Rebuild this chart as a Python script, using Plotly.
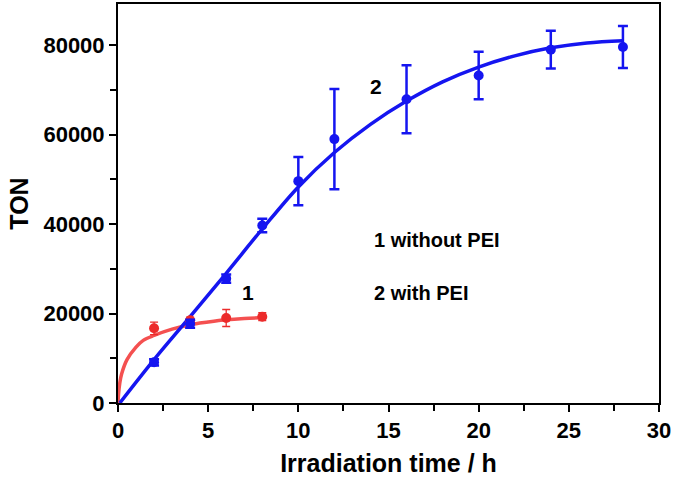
import plotly.graph_objects as go

# ---- data ----
# measured points, sample 1 (without PEI)
red_x = [2, 4, 6, 8]
red_y = [16700, 18500, 19000, 19300]
red_err = [1400, 700, 1900, 900]

# measured points, sample 2 (with PEI)
blue_x = [2, 4, 6, 8, 10, 12, 16, 20, 24, 28]
blue_y = [9100, 17700, 27800, 39700, 49600, 59000, 67900, 73200, 79000, 79600]
blue_err = [700, 900, 900, 1500, 5400, 11200, 7600, 5300, 4200, 4700]

# fitted curves
red_fit_x = [0, 0.03, 0.1, 0.2, 0.5, 1, 1.4, 2, 3, 4, 5, 6, 7, 8.2]
red_fit_y = [0, 2000, 4500, 6500, 9700, 12500, 14000, 15100, 16500, 17500, 18100, 18600, 18900, 19100]

blue_fit_x = [0.1, 2, 4, 6, 8, 10, 12, 14, 16, 18, 20, 22, 24, 26, 28]
blue_fit_y = [0, 9700, 19300, 29000, 38900, 48300, 56000, 62300, 67500, 71800, 75100, 77600, 79400, 80500, 81000]

x_ticks = [0, 5, 10, 15, 20, 25, 30]
y_ticks = [0, 20000, 40000, 60000, 80000]

BLUE = "#1515f0"
RED_LINE = "#f45050"
RED_PT = "#ec2b2b"
FONT = "Liberation Sans, Arial, sans-serif"

fig = go.Figure()

fig.add_trace(go.Scatter(
    x=red_fit_x, y=red_fit_y, mode="lines", line=dict(color=RED_LINE, width=3.5, shape="spline"),
    showlegend=False, hoverinfo="skip"))
fig.add_trace(go.Scatter(
    x=blue_fit_x, y=blue_fit_y, mode="lines", line=dict(color=BLUE, width=3.5, shape="spline"),
    showlegend=False, hoverinfo="skip"))
fig.add_trace(go.Scatter(
    x=red_x, y=red_y, mode="markers", marker=dict(color=RED_PT, size=10),
    error_y=dict(type="data", array=red_err, color=RED_PT, thickness=1.3, width=4),
    showlegend=False, name="1 without PEI"))
fig.add_trace(go.Scatter(
    x=blue_x, y=blue_y, mode="markers", marker=dict(color=BLUE, size=10),
    error_y=dict(type="data", array=blue_err, color=BLUE, thickness=2.5, width=5),
    showlegend=False, name="2 with PEI"))

ann_font = dict(family=FONT, size=21, color="black", weight="bold")
fig.add_annotation(x=14.3, y=70700, text="2", showarrow=False, font=ann_font)
fig.add_annotation(x=7.2, y=24700, text="1", showarrow=False, font=ann_font)
fig.add_annotation(x=14.1, y=36400, text="1 without PEI", showarrow=False, xanchor="left",
                   font=dict(family=FONT, size=20, color="black", weight="bold"))
fig.add_annotation(x=14.1, y=24600, text="2 with PEI", showarrow=False, xanchor="left",
                   font=dict(family=FONT, size=20, color="black", weight="bold"))

axis_common = dict(
    showline=True, linecolor="black", linewidth=2, mirror=True,
    ticks="outside", ticklen=7, tickwidth=2, tickcolor="black",
    showgrid=False, zeroline=False, ticklabeloverflow="allow",
    tickfont=dict(family=FONT, size=22, color="black", weight="bold"),
)

fig.update_xaxes(
    range=[0, 30], tickvals=x_ticks,
    minor=dict(dtick=2.5, ticks="outside", ticklen=6, tickwidth=2, tickcolor="black", showgrid=False),
    title=dict(text="Irradiation time / h", font=dict(family=FONT, size=25, color="black", weight="bold"),
               standoff=12),
    **axis_common)
fig.update_yaxes(
    range=[0, 89200], tickvals=y_ticks, tickformat="d",
    minor=dict(dtick=10000, ticks="outside", ticklen=6, tickwidth=2, tickcolor="black", showgrid=False),
    title=dict(text="TON", font=dict(family=FONT, size=25, color="black", weight="bold"), standoff=8),
    **axis_common)

fig.update_layout(
    width=675, height=484,
    margin=dict(l=118, r=16, t=4, b=81, autoexpand=False),
    plot_bgcolor="white", paper_bgcolor="white",
    showlegend=False,
)

fig.write_html("out.html", config={"displayModeBar": False},
               post_script="document.body.style.margin='0';document.body.style.overflow='hidden';")
